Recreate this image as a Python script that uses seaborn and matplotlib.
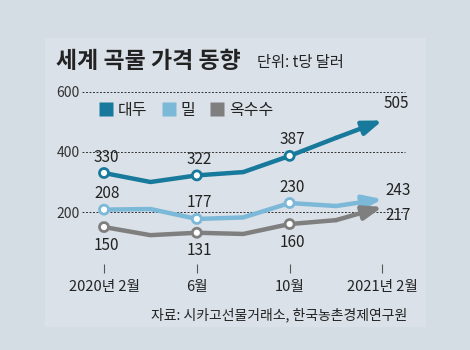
import matplotlib
matplotlib.use("Agg")
import matplotlib.pyplot as plt
import seaborn as sns
import pandas as pd
from matplotlib.patches import Rectangle
from matplotlib.lines import Line2D

# ---------------- data ----------------
months = [0, 2, 4, 6, 8, 10, 12]          # months since 2020-02
soybean = [330, 300, 322, 333, 387, 447, 505]
wheat = [208, 210, 177, 182, 230, 220, 243]
corn = [150, 123, 131, 127, 160, 173, 217]
series_names = ["대두", "밀", "옥수수"]
labeled_idx = [0, 2, 4]                     # points with circle + value label
tick_months = [0, 4, 8, 12]
tick_labels = ["2020년 2월", "6월", "10월", "2021년 2월"]
y_ticks = [200, 400, 600]

title = "세계 곡물 가격 동향"
unit = "단위: t당 달러"
source = "자료: 시카고선물거래소, 한국농촌경제연구원"

colors = {"대두": "#17799b", "밀": "#7cb8d8", "옥수수": "#7f7f7f"}

df = pd.DataFrame({
    "month": months * 3,
    "price": soybean + wheat + corn,
    "grain": [n for n in series_names for _ in months],
})

# ---------------- style ----------------
sns.set_style("white")
plt.rcParams["font.family"] = ["Noto Sans CJK KR", "DejaVu Sans"]
TXT = "#222222"

W, H = 470, 350
fig = plt.figure(figsize=(4.7, 3.5), dpi=100)
fig.patch.set_facecolor("#d4dce4")
panel = Rectangle((45 / W, 1 - 327 / H), 381 / W, 289 / H,
                  transform=fig.transFigure, facecolor="#dae1e8",
                  edgecolor="none", zorder=-10)
fig.patches.append(panel)

# axes: x 82..405 px, y 91..273 px
ax = fig.add_axes([82 / W, 1 - 273 / H, 323 / W, 182 / H])
ax.set_facecolor("none")
ax.set_zorder(5)
ax.set_xlim(-0.948, 12.97)
ax.set_ylim(-3, 603)

for y in y_ticks:
    ax.axhline(y, color="#333333", lw=0.7, ls=(0, (2, 1.6)), zorder=1, clip_on=False)

# lines up to Dec, arrow for the last segment
body = df[df["month"] <= 10]
sns.lineplot(data=body, x="month", y="price", hue="grain", palette=colors,
             linewidth=3.2, legend=False, ax=ax, zorder=3,
             solid_capstyle="round", solid_joinstyle="round")

for name in series_names:
    vals = df[df["grain"] == name]["price"].tolist()
    ax.annotate("", xy=(months[-1], vals[-1]), xytext=(months[-2], vals[-2]),
                arrowprops=dict(arrowstyle="-|>,head_length=1.15,head_width=0.42",
                                color=colors[name], lw=3.2, shrinkA=0, shrinkB=0,
                                mutation_scale=10, capstyle="round"),
                zorder=3)

# open circles at labeled points
pts = df[df["month"].isin([months[i] for i in labeled_idx])]
sns.scatterplot(data=pts, x="month", y="price", hue="grain", palette=colors,
                ax=ax, legend=False, s=42, linewidth=2, zorder=4)
for coll in ax.collections:
    coll.set_edgecolors(coll.get_facecolors())
    coll.set_facecolor("white")

# value labels
offsets = {"대두": 11.5, "밀": 11.5, "옥수수": -13}
series_vals = {"대두": soybean, "밀": wheat, "옥수수": corn}
for name in series_names:
    vals = series_vals[name]
    for i in labeled_idx:
        ax.annotate(str(vals[i]), (months[i], vals[i]), xytext=(2, offsets[name]),
                    textcoords="offset points", ha="center", va="center",
                    fontsize=11, color=TXT, annotation_clip=False)

end_off = {"대두": (10, 12), "밀": (11, 6), "옥수수": (11, -6)}
for name in series_names:
    v = series_vals[name][-1]
    ax.annotate(str(v), (months[-1], v), xytext=end_off[name],
                textcoords="offset points", ha="center", va="center",
                fontsize=11, color=TXT, annotation_clip=False)

# axes cosmetics
sns.despine(ax=ax, left=True, bottom=True)
ax.set_xlabel("")
ax.set_ylabel("")
ax.set_xticks(tick_months)
ax.set_xticklabels(tick_labels, fontsize=10.5, color=TXT)
ax.set_yticks(y_ticks)
ax.set_yticklabels([str(y) for y in y_ticks], fontsize=10, color="#333333")
ax.tick_params(axis="x", bottom=True, direction="in", length=6.5, width=0.8,
               color="#555555", pad=5)
ax.tick_params(axis="y", left=True, length=0, pad=1.5)
ax.grid(False)

# legend
handles = [Line2D([], [], marker="s", ls="none", markersize=9.5,
                  markerfacecolor=colors[n], markeredgecolor="none") for n in series_names]
fig.legend(handles, series_names, loc="center left", bbox_to_anchor=(84 / W, 1 - 110 / H),
           ncol=3, frameon=False, fontsize=11.5, handlelength=0.9, handletextpad=0.3,
           columnspacing=0.9, labelcolor=TXT)

# title and texts
fig.text(56 / W, 1 - 61 / H, title, fontsize=16.5, fontweight="bold", color=TXT,
         ha="left", va="center")
fig.text(257 / W, 1 - 63 / H, unit, fontsize=11, color=TXT, ha="left", va="center")
fig.text(407 / W, 1 - 315 / H, source, fontsize=10, color=TXT, ha="right", va="center")

fig.savefig("out.png", dpi=100, facecolor=fig.get_facecolor())
